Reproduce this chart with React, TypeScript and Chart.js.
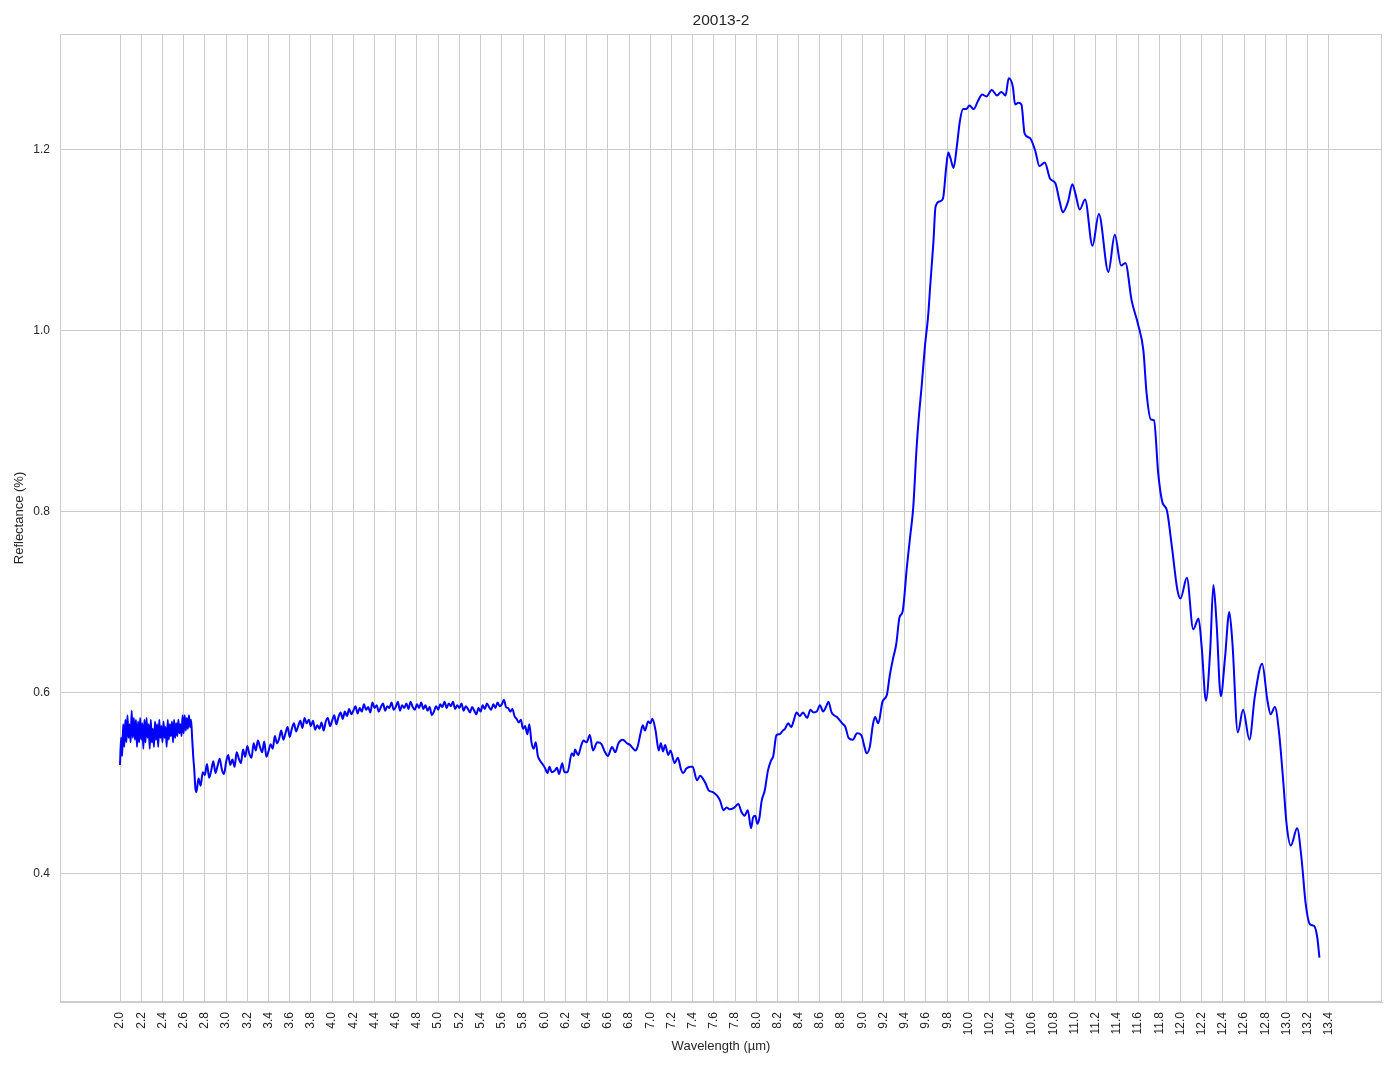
import React, { useEffect, useRef } from "react";
import { Chart, registerables } from "chart.js";

Chart.register(...registerables);

const TITLE = "20013-2";
const X_LABEL = "Wavelength (µm)";
const Y_LABEL = "Reflectance (%)";

// Region A: noisy start, 2.00–2.72 µm
const wlA = [
  2.0, 2.01, 2.02, 2.03, 2.04, 2.05, 2.06, 2.07, 2.08, 2.09,
  2.1, 2.11, 2.12, 2.13, 2.14, 2.15, 2.16, 2.17, 2.18, 2.19,
  2.2, 2.21, 2.22, 2.23, 2.24, 2.25, 2.26, 2.27, 2.28, 2.29,
  2.3, 2.31, 2.32, 2.33, 2.34, 2.35, 2.36, 2.37, 2.38, 2.39,
  2.4, 2.41, 2.42, 2.43, 2.44, 2.45, 2.46, 2.47, 2.48, 2.49,
  2.5, 2.51, 2.52, 2.53, 2.54, 2.55, 2.56, 2.57, 2.58, 2.59,
  2.6, 2.61, 2.62, 2.63, 2.64, 2.65, 2.66, 2.67, 2.68, 2.69,
  2.7, 2.71, 2.72,
];
const rfA = [
  0.52, 0.55, 0.53, 0.565, 0.54, 0.57, 0.545, 0.575, 0.55, 0.565,
  0.545, 0.58, 0.55, 0.572, 0.548, 0.57, 0.54, 0.568, 0.545, 0.572,
  0.548, 0.566, 0.538, 0.57, 0.545, 0.572, 0.55, 0.565, 0.538, 0.57,
  0.545, 0.56, 0.54, 0.568, 0.548, 0.565, 0.54, 0.57, 0.55, 0.563,
  0.545, 0.568, 0.55, 0.562, 0.54, 0.57, 0.548, 0.565, 0.552, 0.568,
  0.545, 0.57, 0.55, 0.566, 0.552, 0.57, 0.555, 0.565, 0.552, 0.575,
  0.555, 0.575, 0.558, 0.572, 0.56, 0.575, 0.562, 0.57, 0.55, 0.53,
  0.515, 0.495, 0.49,
];

// Region B: 2.74–5.96 µm
const wlB = [
  2.74, 2.76, 2.78, 2.8, 2.82, 2.84, 2.86, 2.88, 2.9, 2.92, 2.94, 2.96, 2.98,
  3.0, 3.02, 3.04, 3.06, 3.08, 3.1, 3.12, 3.14, 3.16, 3.18,
  3.2, 3.22, 3.24, 3.26, 3.28, 3.3, 3.32, 3.34, 3.36, 3.38,
  3.4, 3.42, 3.44, 3.46, 3.48, 3.5, 3.52, 3.54, 3.56, 3.58,
  3.6, 3.62, 3.64, 3.66, 3.68, 3.7, 3.72, 3.74, 3.76, 3.78,
  3.8, 3.82, 3.84, 3.86, 3.88, 3.9, 3.92, 3.94, 3.96, 3.98,
  4.0, 4.02, 4.04, 4.06, 4.08, 4.1, 4.12, 4.14, 4.16, 4.18,
  4.2, 4.22, 4.24, 4.26, 4.28, 4.3, 4.32, 4.34, 4.36, 4.38,
  4.4, 4.42, 4.44, 4.46, 4.48, 4.5, 4.52, 4.54, 4.56, 4.58,
  4.6, 4.62, 4.64, 4.66, 4.68, 4.7, 4.72, 4.74, 4.76, 4.78,
  4.8, 4.82, 4.84, 4.86, 4.88, 4.9, 4.92, 4.94, 4.96, 4.98,
  5.0, 5.02, 5.04, 5.06, 5.08, 5.1, 5.12, 5.14, 5.16, 5.18,
  5.2, 5.22, 5.24, 5.26, 5.28, 5.3, 5.32, 5.34, 5.36, 5.38,
  5.4, 5.42, 5.44, 5.46, 5.48, 5.5, 5.52, 5.54, 5.56, 5.58,
  5.6, 5.62, 5.64, 5.66, 5.68, 5.7, 5.72, 5.74, 5.76, 5.78,
  5.8, 5.82, 5.84, 5.86, 5.88, 5.9, 5.92, 5.94, 5.96,
];
const rfB = [
  0.505, 0.497, 0.512, 0.509, 0.521, 0.506, 0.514, 0.524, 0.511, 0.519, 0.527, 0.515, 0.51,
  0.523, 0.531, 0.52, 0.526, 0.518, 0.534, 0.527, 0.522, 0.537, 0.529,
  0.541, 0.532, 0.528, 0.544, 0.536, 0.547, 0.54, 0.534, 0.546, 0.529,
  0.535, 0.543, 0.538, 0.552, 0.544, 0.549, 0.558, 0.548, 0.555, 0.562,
  0.551, 0.56, 0.566, 0.557, 0.563, 0.569, 0.561, 0.572, 0.566, 0.57,
  0.563, 0.569, 0.559, 0.564, 0.56, 0.567, 0.558, 0.568, 0.572, 0.563,
  0.569, 0.575, 0.565, 0.573, 0.578, 0.571, 0.579, 0.574, 0.582, 0.576,
  0.58, 0.585, 0.577, 0.583, 0.579, 0.587, 0.581, 0.584, 0.578, 0.589,
  0.583, 0.586, 0.579, 0.584, 0.588, 0.58, 0.585, 0.583, 0.589, 0.581,
  0.584, 0.59, 0.58, 0.586, 0.583, 0.588, 0.582, 0.59, 0.584, 0.581,
  0.587, 0.583, 0.589, 0.582, 0.586, 0.58, 0.584, 0.575, 0.579, 0.585,
  0.581, 0.587, 0.584, 0.59, 0.583, 0.588, 0.585, 0.59, 0.582, 0.586,
  0.583, 0.588, 0.58, 0.585, 0.582, 0.578, 0.584, 0.58, 0.576, 0.583,
  0.579, 0.586, 0.582, 0.588, 0.584, 0.581, 0.587, 0.583, 0.589, 0.585,
  0.587, 0.592, 0.584, 0.583, 0.579, 0.582, 0.574, 0.571, 0.567, 0.57,
  0.56, 0.563, 0.554, 0.565, 0.545, 0.538, 0.545, 0.53, 0.525,
];

// Region C: smooth part, 5.99–13.31 µm
const wlC = [
  5.99, 6.01, 6.03, 6.05, 6.07, 6.1, 6.12, 6.14, 6.17, 6.19,
  6.22, 6.26, 6.28, 6.29, 6.32, 6.35, 6.37, 6.4, 6.43, 6.46,
  6.5, 6.54, 6.57, 6.6, 6.64, 6.67, 6.7, 6.74, 6.78, 6.81,
  6.84, 6.86, 6.88, 6.91, 6.93, 6.95, 6.98, 7.0, 7.02, 7.05,
  7.08, 7.1, 7.12, 7.14, 7.17, 7.19, 7.23, 7.26, 7.29, 7.31,
  7.34, 7.38, 7.4, 7.44, 7.47, 7.49, 7.52, 7.55, 7.59, 7.63,
  7.66, 7.69, 7.72, 7.75, 7.78, 7.81, 7.83, 7.86, 7.89, 7.92,
  7.95, 7.97, 7.99, 8.01, 8.03, 8.05, 8.08, 8.11, 8.14, 8.16,
  8.19, 8.22, 8.25, 8.27, 8.3, 8.33, 8.35, 8.38, 8.41, 8.44,
  8.48, 8.51, 8.54, 8.57, 8.6, 8.63, 8.66, 8.68, 8.71, 8.76,
  8.81, 8.84, 8.87, 8.91, 8.95, 8.99, 9.02, 9.04, 9.07, 9.1,
  9.12, 9.15, 9.19, 9.23, 9.26, 9.29, 9.32, 9.35, 9.38, 9.42,
  9.45, 9.48, 9.51, 9.53, 9.56, 9.59, 9.62, 9.64, 9.67, 9.69,
  9.73, 9.76, 9.79, 9.81, 9.83, 9.86, 9.89, 9.92, 9.95, 9.98,
  10.01, 10.05, 10.09, 10.13, 10.17, 10.22, 10.27, 10.31, 10.35, 10.38,
  10.42, 10.44, 10.47, 10.5, 10.53, 10.58, 10.63, 10.67, 10.72, 10.77,
  10.82, 10.86, 10.89, 10.94, 10.98, 11.01, 11.05, 11.1, 11.17, 11.23,
  11.32, 11.38, 11.44, 11.48, 11.54, 11.6, 11.65, 11.68, 11.72, 11.75,
  11.79, 11.83, 11.87, 11.92, 11.97, 12.0, 12.06, 12.12, 12.17, 12.2,
  12.24, 12.28, 12.31, 12.34, 12.38, 12.42, 12.46, 12.49, 12.54, 12.59,
  12.65, 12.7, 12.77, 12.82, 12.85, 12.89, 12.93, 12.97, 13.0, 13.04,
  13.1, 13.14, 13.18, 13.22, 13.26, 13.29, 13.31,
];
const rfC = [
  0.52, 0.516, 0.511, 0.518, 0.512, 0.514, 0.517, 0.51, 0.522, 0.512,
  0.512, 0.533, 0.53, 0.537, 0.531, 0.542, 0.547, 0.545, 0.553, 0.536,
  0.545, 0.543, 0.535, 0.53, 0.54, 0.534, 0.544, 0.548, 0.544, 0.542,
  0.538, 0.536, 0.54, 0.556, 0.564, 0.558, 0.568, 0.566, 0.571, 0.558,
  0.536, 0.544, 0.535, 0.542, 0.531, 0.536, 0.522, 0.528, 0.515, 0.511,
  0.516, 0.518, 0.518, 0.503, 0.508, 0.506, 0.5, 0.492, 0.49, 0.486,
  0.48, 0.47, 0.473, 0.471, 0.472, 0.475, 0.477, 0.468, 0.464, 0.47,
  0.45, 0.462, 0.464, 0.455, 0.462, 0.48, 0.492, 0.514, 0.525, 0.53,
  0.553, 0.554, 0.558, 0.56, 0.566, 0.562, 0.568, 0.578, 0.574, 0.578,
  0.572, 0.581, 0.578, 0.579, 0.586, 0.579, 0.585, 0.59, 0.578, 0.573,
  0.566, 0.562, 0.55, 0.548, 0.555, 0.553, 0.54, 0.533, 0.54, 0.565,
  0.573, 0.566, 0.59, 0.597, 0.62, 0.638, 0.654, 0.683, 0.69, 0.739,
  0.772, 0.805, 0.868, 0.901, 0.94, 0.983, 1.016, 1.05, 1.098, 1.137,
  1.143, 1.146, 1.18, 1.197, 1.191, 1.18, 1.203, 1.232, 1.245, 1.245,
  1.249, 1.245, 1.254, 1.261, 1.259, 1.266, 1.26, 1.264, 1.26, 1.279,
  1.269, 1.25, 1.252, 1.25, 1.218, 1.213, 1.199, 1.182, 1.186, 1.168,
  1.163, 1.143, 1.131, 1.143, 1.162, 1.151, 1.134, 1.145, 1.094, 1.129,
  1.065, 1.106, 1.072, 1.075, 1.033, 1.007, 0.978, 0.931, 0.902, 0.901,
  0.842, 0.81, 0.802, 0.76, 0.714, 0.704, 0.727, 0.67, 0.682, 0.65,
  0.591, 0.647, 0.719, 0.677, 0.596, 0.639, 0.689, 0.654, 0.556, 0.581,
  0.548, 0.595, 0.632, 0.591, 0.576, 0.584, 0.555, 0.5, 0.455, 0.431,
  0.45, 0.418, 0.367, 0.344, 0.342, 0.329, 0.307,
];

const xTickValues = [
  2.0, 2.2, 2.4, 2.6, 2.8, 3.0, 3.2, 3.4, 3.6, 3.8, 4.0, 4.2, 4.4, 4.6, 4.8,
  5.0, 5.2, 5.4, 5.6, 5.8, 6.0, 6.2, 6.4, 6.6, 6.8, 7.0, 7.2, 7.4, 7.6, 7.8,
  8.0, 8.2, 8.4, 8.6, 8.8, 9.0, 9.2, 9.4, 9.6, 9.8, 10.0, 10.2, 10.4, 10.6,
  10.8, 11.0, 11.2, 11.4, 11.6, 11.8, 12.0, 12.2, 12.4, 12.6, 12.8, 13.0,
  13.2, 13.4,
];
const yTickValues = [0.4, 0.6, 0.8, 1.0, 1.2];

const FONT = '"Liberation Sans", Arial, "DejaVu Sans", sans-serif';
const TEXT = "#262626";
const GRID = "#cccccc";

export default function App() {
  const ref = useRef<HTMLCanvasElement | null>(null);

  useEffect(() => {
    document.body.style.margin = "0";
    const wavelengths = [...wlA, ...wlB, ...wlC];
    const reflectance = [...rfA, ...rfB, ...rfC];
    const points = wavelengths.map((w, i) => ({ x: w, y: reflectance[i] }));

    const framePlugin = {
      id: "frameAndTitle",
      afterDraw(chart: any) {
        const { ctx, chartArea } = chart;
        const { left, right, top, bottom } = chartArea;
        ctx.save();
        ctx.strokeStyle = GRID;
        ctx.lineWidth = 1;
        ctx.strokeRect(left + 0.5, top + 0.5, right - left - 1, bottom - top - 1);
        ctx.fillStyle = TEXT;
        ctx.font = `15.5px ${FONT}`;
        ctx.textAlign = "center";
        ctx.textBaseline = "middle";
        ctx.fillText(TITLE, (left + right) / 2, 21);
        ctx.restore();
      },
    };

    const chart = new Chart(ref.current as HTMLCanvasElement, {
      type: "line",
      data: {
        datasets: [
          {
            data: points,
            borderColor: "#0000ff",
            borderWidth: 2,
            pointRadius: 0,
            fill: false,
            cubicInterpolationMode: "monotone",
          } as any,
        ],
      },
      options: {
        animation: false,
        responsive: false,
        devicePixelRatio: 1,
        layout: { padding: { left: 0, right: 12, top: 34, bottom: 0 } },
        plugins: {
          legend: { display: false },
          tooltip: { enabled: false },
          title: { display: false },
        },
        scales: {
          x: {
            type: "linear",
            min: 1.434,
            max: 13.9,
            afterBuildTicks: (scale: any) => {
              scale.ticks = xTickValues.map((v) => ({ value: v }));
            },
            afterFit: (scale: any) => {
              scale.height = 67;
            },
            ticks: {
              autoSkip: false,
              minRotation: 90,
              maxRotation: 90,
              padding: 10,
              color: TEXT,
              font: { family: FONT, size: 12 },
              callback: (v: any) => Number(v).toFixed(1),
            },
            grid: { color: GRID, lineWidth: 1, drawTicks: false },
            border: { display: true, color: GRID },
            title: {
              display: true,
              text: X_LABEL,
              color: TEXT,
              font: { family: FONT, size: 13 },
              padding: { top: 0, bottom: 15 },
            },
          },
          y: {
            type: "linear",
            min: 0.258,
            max: 1.328,
            afterBuildTicks: (scale: any) => {
              scale.ticks = yTickValues.map((v) => ({ value: v }));
            },
            afterFit: (scale: any) => {
              scale.width = 60;
            },
            ticks: {
              padding: 10,
              color: TEXT,
              font: { family: FONT, size: 12 },
              callback: (v: any) => Number(v).toFixed(1),
            },
            grid: { color: GRID, lineWidth: 1, drawTicks: false },
            border: { display: true, color: GRID },
            title: {
              display: true,
              text: Y_LABEL,
              color: TEXT,
              font: { family: FONT, size: 13 },
              padding: { top: 12, bottom: 0 },
            },
          },
        },
      },
      plugins: [framePlugin],
    });

    return () => {
      chart.destroy();
    };
  }, []);

  return (
    <div style={{ width: 1394, height: 1069 }}>
      <canvas ref={ref} width={1394} height={1069} style={{ display: "block" }} />
    </div>
  );
}
